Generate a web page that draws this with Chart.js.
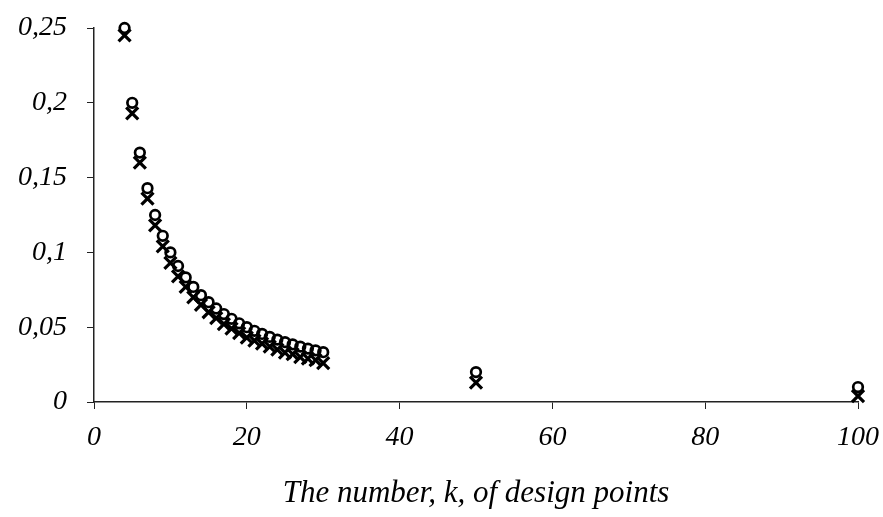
<!DOCTYPE html>
<html>
<head>
<meta charset="utf-8">
<script src="https://cdn.jsdelivr.net/npm/chart.js@4.4.0/dist/chart.umd.min.js"></script>
<style>
  html, body { margin: 0; padding: 0; background: #fff; }
  #wrap { width: 883px; height: 517px; }
</style>
</head>
<body>
<div id="wrap"><canvas id="designChart" width="883" height="517"></canvas></div>
<script>
// number of design points k
const kValues = [4, 5, 6, 7, 8, 9, 10, 11, 12, 13, 14, 15, 16, 17, 18, 19, 20,
                 21, 22, 23, 24, 25, 26, 27, 28, 29, 30, 50, 100];

// circles
const circleValues = [0.25, 0.2, 0.1667, 0.1429, 0.125, 0.1111, 0.1, 0.0909, 0.0833,
                      0.0769, 0.0714, 0.0667, 0.0625, 0.0588, 0.0556, 0.0526, 0.05,
                      0.0476, 0.0455, 0.0435, 0.0417, 0.04, 0.0385, 0.037, 0.0357,
                      0.0345, 0.0333, 0.02, 0.01];

// crosses
const crossValues = [0.245, 0.193, 0.16, 0.136, 0.118, 0.104, 0.093, 0.084, 0.077,
                     0.070, 0.065, 0.060, 0.056, 0.052, 0.049, 0.046, 0.043,
                     0.041, 0.039, 0.037, 0.035, 0.033, 0.032, 0.030, 0.029,
                     0.028, 0.026, 0.013, 0.004];

const xTicks = [0, 20, 40, 60, 80, 100];
const yTicks = [0, 0.05, 0.1, 0.15, 0.2, 0.25];

function toPoints(ys) {
    return kValues.map((k, i) => ({ x: k, y: ys[i] }));
}

function comma(v) {
    return String(Number(v.toFixed(2))).replace('.', ',');
}

const serif = { family: '"Liberation Serif", "DejaVu Serif", serif', style: 'italic', size: 28 };
const titleFont = { family: '"Liberation Serif", "DejaVu Serif", serif', style: 'italic', size: 31 };

const ctx = document.getElementById('designChart').getContext('2d');
new Chart(ctx, {
    type: 'scatter',
    data: {
        datasets: [{
            label: 'o',
            data: toPoints(circleValues),
            pointStyle: 'circle',
            pointRadius: 4.8,
            borderWidth: 2.7,
            borderColor: '#000',
            backgroundColor: 'rgba(0,0,0,0)',
            clip: false,
            order: 1
        }, {
            label: 'x',
            data: toPoints(crossValues),
            pointStyle: 'crossRot',
            pointRadius: 8.5,
            borderWidth: 3.2,
            borderColor: '#000',
            backgroundColor: '#000',
            clip: false,
            order: 2
        }]
    },
    options: {
        responsive: false,
        animation: false,
        layout: { padding: { top: 28, right: 25, left: 0, bottom: 0 } },
        plugins: { legend: { display: false }, tooltip: { enabled: false } },
        scales: {
            x: {
                type: 'linear',
                min: 0,
                max: 100,
                afterBuildTicks: s => { s.ticks = xTicks.map(v => ({ value: v })); },
                afterFit: s => { s.height = 115; s.paddingLeft = 0; s.paddingRight = 0; },
                grid: { drawOnChartArea: false, tickLength: 7, color: '#222' },
                border: { color: '#222', width: 1.5 },
                ticks: { color: '#000', font: serif, padding: 12, maxRotation: 0 },
                title: {
                    display: true,
                    text: 'The number, k, of design points',
                    color: '#000',
                    font: titleFont,
                    padding: { top: 3, bottom: 5 }
                }
            },
            y: {
                type: 'linear',
                min: 0,
                max: 0.25,
                afterBuildTicks: s => { s.ticks = yTicks.map(v => ({ value: v })); },
                afterFit: s => { s.width = 94; s.paddingTop = 0; s.paddingBottom = 0; },
                grid: { drawOnChartArea: false, tickLength: 7, color: '#222' },
                border: { color: '#222', width: 1.5 },
                ticks: { color: '#000', font: serif, padding: 20, callback: v => comma(v) }
            }
        }
    }
});
</script>
</body>
</html>
